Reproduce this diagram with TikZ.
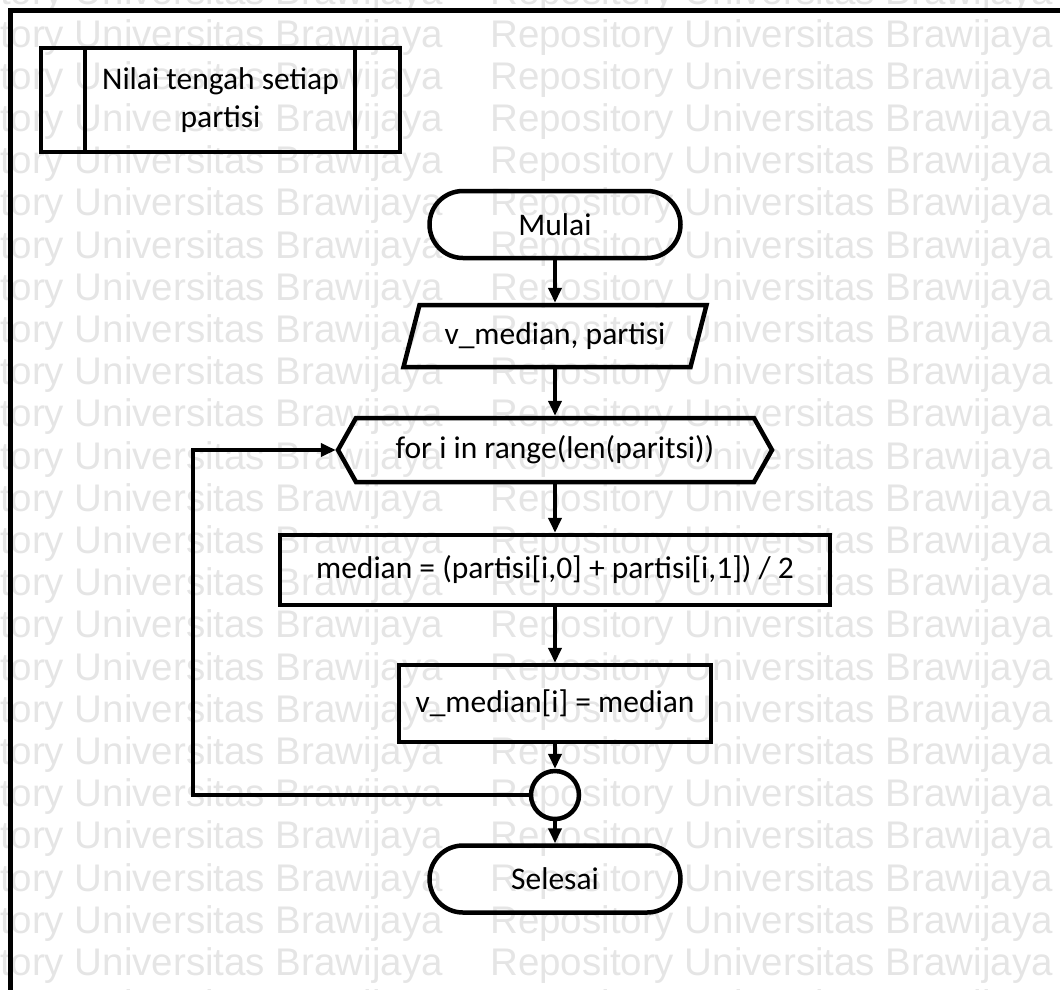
\documentclass[tikz,border=0pt]{standalone}
\usepackage{fontspec}
\setmainfont{Carlito}
\newfontfamily\wmfont{Liberation Sans}
\usetikzlibrary{arrows.meta,shapes.misc,calc}

\begin{document}
\begin{tikzpicture}[x=1pt,y=-1pt,
  wm/.style={font=\wmfont\fontsize{38.5}{38.5}\selectfont, text=black!10, inner sep=0pt, anchor=base west},
  txt/.style={font=\fontsize{31.5}{38}\selectfont, inner sep=0pt, outer sep=0pt, align=center},
  border/.style={draw=black, line width=4.5pt, line join=miter},
  terminal/.style={txt, border, rounded rectangle, minimum width=251pt, minimum height=67pt},
  procbox/.style={txt, border, rectangle},
  flow/.style={draw=black, line width=3.8pt, line join=miter, shorten >=2.2pt,
    -{Triangle[length=15pt,width=13pt]}}
]
\useasboundingbox (0,0) rectangle (1060,989);
\clip (0,0) rectangle (1060,989);

% repository watermark rows
\foreach \r in {-1,...,23}{
  \foreach \c [count=\k] in {-120,490}{
    \node[wm] (wm-\r-\k) at (\c,47+42.2*\r) {Repository Universitas Brawijaya};
  }
}

% page frame
\draw[line width=5pt, line join=miter] (10,1000) -- (10,10) -- (1070,10);

% predefined process
\node[procbox, minimum width=359pt, minimum height=104pt] (pre) at (220.5,100) {Nilai tengah setiap\\partisi};
\draw[border] ($(pre.north west)+(44,0)$) -- ($(pre.south west)+(44,0)$);
\draw[border] ($(pre.north east)+(-45,0)$) -- ($(pre.south east)+(-45,0)$);

% flowchart nodes
\node[terminal] (start) at (555,224.5) {Mulai};

\node[txt, minimum width=287pt, minimum height=62pt] (in) at (555,336) {v\_median, partisi};
\draw[border] ($(in.north west)+(8,0)$) -- ($(in.north east)+(8,0)$)
  -- ($(in.south east)+(-8,0)$) -- ($(in.south west)+(-8,0)$) -- cycle;

\node[txt, minimum width=398pt, minimum height=64pt] (for) at (555,450) {for i in range(len(paritsi))};
\draw[border] (for.north west) -- (for.north east) -- ($(for.east)+(18,0)$)
  -- (for.south east) -- (for.south west) -- ($(for.west)+(-18,0)$) -- cycle;

\node[procbox, minimum width=550pt, minimum height=70pt] (med) at (555,570) {median = (partisi[i,0] + partisi[i,1]) / 2};
\node[procbox, minimum width=312pt, minimum height=77pt] (asg) at (555,703.5) {v\_median[i] = median};
\node[border, circle, minimum size=48pt, inner sep=0pt, outer sep=0pt] (conn) at (555,795) {};
\node[terminal] (stop) at (555,879) {Selesai};

% connectors
\coordinate (forleft) at ($(for.west)+(-18,0)$);
\coordinate (lc) at (193,795);
\draw[flow] (start.south) -- (in.north);
\draw[flow] (in.south) -- (for.north);
\draw[flow] (for.south) -- (med.north);
\draw[flow] (med.south) -- (asg.north);
\draw[flow] (asg.south) -- (conn.north);
\draw[flow] (conn.south) -- (stop.north);
\draw[flow] (conn.west) -- (lc) |- (forleft);
\end{tikzpicture}
\end{document}
